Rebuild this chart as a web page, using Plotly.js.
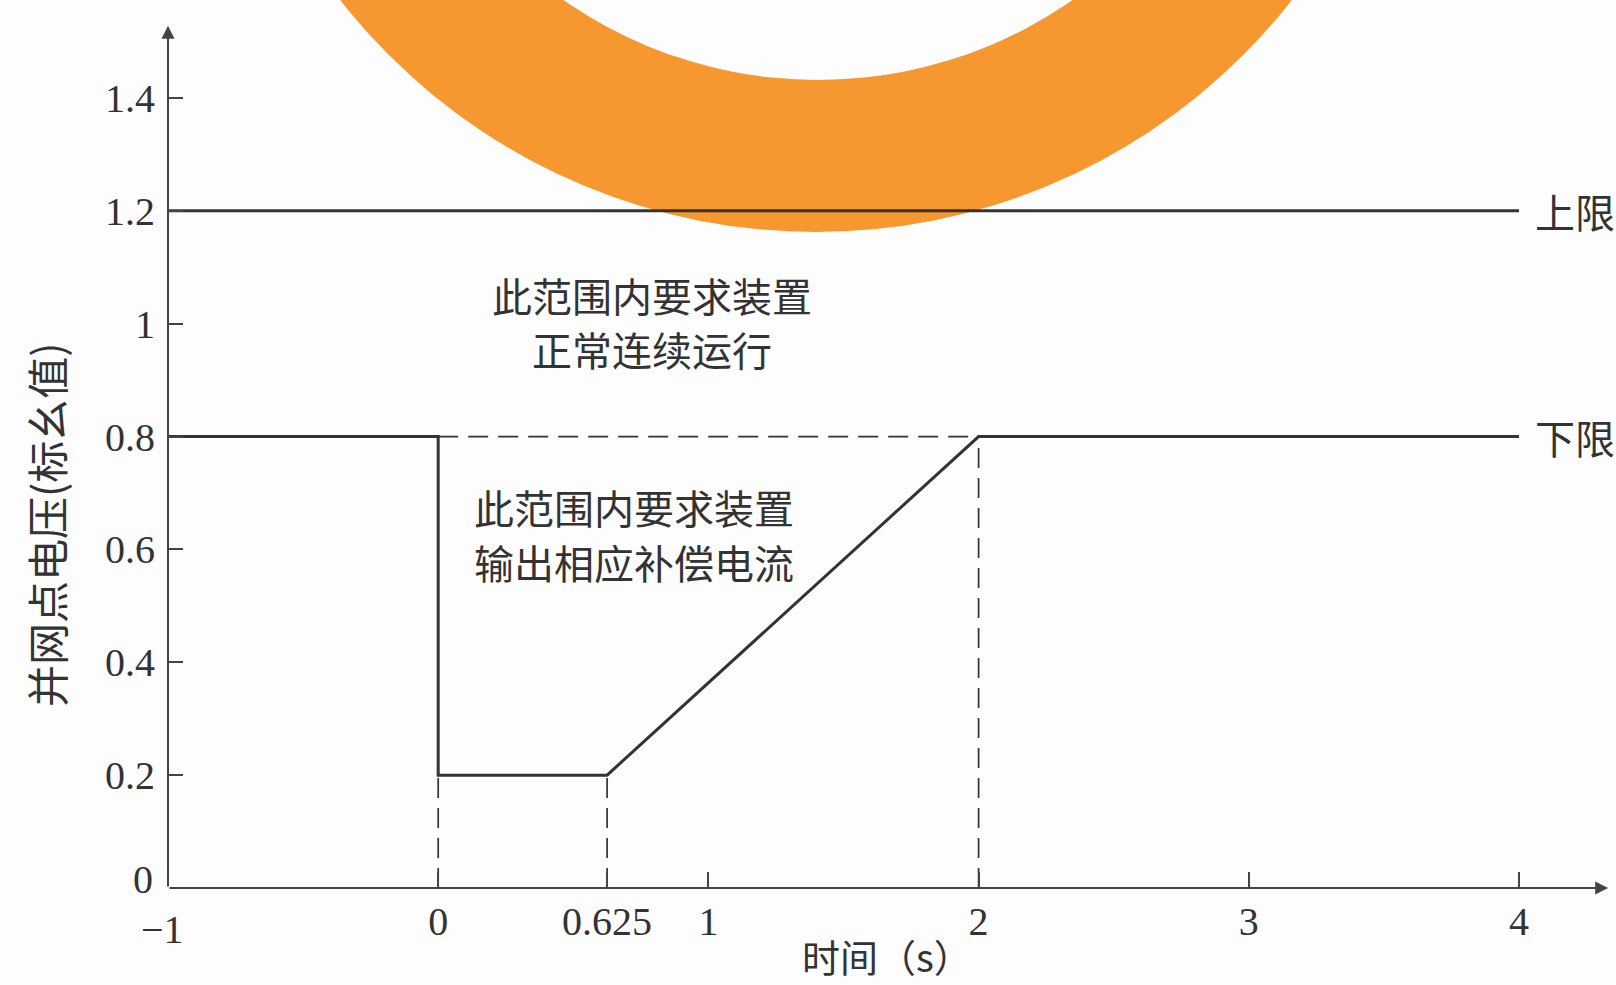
<!DOCTYPE html>
<html>
<head>
<meta charset="utf-8">
<script src="https://cdn.plot.ly/plotly-3.0.1.min.js"></script>
<style>
html,body{margin:0;padding:0;background:#fdfdfd;}
#chart{width:1616px;height:985px;}
</style>
</head>
<body>
<div id="chart"></div>
<script>
// ---- data ----
const xTickVals = [-1, 0, 0.625, 1, 2, 3, 4];
const xTickText = ['\u22121', '0', '0.625', '1', '2', '3', '4'];
const yTickVals = [0, 0.2, 0.4, 0.6, 0.8, 1, 1.2, 1.4];
const yTickText = ['0', '0.2', '0.4', '0.6', '0.8', '1', '1.2', '1.4'];

const upperX = [-1, 4];
const upperY = [1.2, 1.2];

const lowerX = [-1, 0, 0, 0.625, 2, 4];
const lowerY = [0.8, 0.8, 0.2, 0.2, 0.8, 0.8];

const refLineX = [0, 2];
const refLineY = [0.8, 0.8];

const guideX = [0, 0.625, 2];
const guideTop = [0.2, 0.2, 0.8];

const labelUpper = '上限';
const labelLower = '下限';
const regionNormal = ['此范围内要求装置', '正常连续运行'];
const regionComp = ['此范围内要求装置', '输出相应补偿电流'];
const xTitle = '时间（s）';
const yTitle = '并网点电压(标幺值)';

// ---- layout geometry ----
const W = 1616, H = 985;
const mL = 168, mR = 0, mT = 0, mB = 97;
const plotW = W - mL - mR, plotH = H - mT - mB;
const xMin = -1, pxPerX = 270.2;
const xMax = xMin + plotW / pxPerX;
const pxPerY = 564.3;
const yMax = plotH / pxPerY;

// pixel -> coordinate helpers (for decoration / text placement only)
const px2x = p => xMin + (p - mL) / pxPerX;
const py2y = p => (H - mB - p) / pxPerY;
const px2paper = p => (p - mL) / plotW;
const py2paper = p => (H - mB - p) / plotH;

// decorative orange ring (scan background)
function circleShape(cx, cy, r, fill) {
  return {
    type: 'circle', xref: 'x', yref: 'y', layer: 'below',
    x0: px2x(cx - r), x1: px2x(cx + r), y0: py2y(cy + r), y1: py2y(cy - r),
    fillcolor: fill, line: {width: 0}
  };
}
const ringOuter = circleShape(816, -372, 604, '#f7972f');
const ringInner = circleShape(818, -365, 445, '#fdfdfd');

// dashed guide traces built from arrays
const gx = [], gy = [];
guideX.forEach((v, i) => { gx.push(v, v, null); gy.push(0, guideTop[i], null); });
gx.push(refLineX[0], refLineX[1]);
gy.push(refLineY[0], refLineY[1]);

// corner labels (x "−1" and y "0") placed separately so they don't collide
const xAxisText = xTickText.map((t, i) => xTickVals[i] === xMin ? '' : t);
const yAxisText = yTickText.map((t, i) => yTickVals[i] === 0 ? '' : t);
const xCornerText = xTickText[xTickVals.indexOf(xMin)];
const yCornerText = yTickText[yTickVals.indexOf(0)];

const lineColor = '#333333';
const textColor = '#333333';
const serif = 'Liberation Serif, Times New Roman, serif';
const cjk = 'Noto Sans CJK SC, sans-serif';

const traces = [
  {x: upperX, y: upperY, mode: 'lines', line: {color: lineColor, width: 3}, hoverinfo: 'skip', showlegend: false},
  {x: lowerX, y: lowerY, mode: 'lines', line: {color: lineColor, width: 3}, hoverinfo: 'skip', showlegend: false},
  {x: gx, y: gy, mode: 'lines', connectgaps: false, line: {color: lineColor, width: 1.7, dash: '20px,10px'}, hoverinfo: 'skip', showlegend: false}
];

function textAnn(x, y, text, size, extra) {
  return Object.assign({x: x, y: y, xref: 'x', yref: 'y', text: text, showarrow: false,
    xanchor: 'center', yanchor: 'middle',
    font: {family: cjk, size: size, color: textColor}}, extra || {});
}
function paperAnn(px, py, text, font, extra) {
  return Object.assign({x: px2paper(px), y: py2paper(py), xref: 'paper', yref: 'paper', text: text,
    showarrow: false, xanchor: 'center', yanchor: 'middle', font: font}, extra || {});
}

const layout = {
  width: W, height: H,
  margin: {l: mL, r: mR, t: mT, b: mB},
  paper_bgcolor: '#fdfdfd', plot_bgcolor: 'rgba(0,0,0,0)',
  showlegend: false,
  xaxis: {
    range: [xMin, xMax], showgrid: false, zeroline: false, showline: false,
    tickmode: 'array', tickvals: xTickVals, ticktext: xAxisText,
    ticks: 'inside', ticklen: 16, tickwidth: 2, tickcolor: '#444',
    ticklabelstandoff: 6,
    tickfont: {family: serif, size: 40, color: textColor},
    automargin: false, fixedrange: true
  },
  yaxis: {
    range: [0, yMax], showgrid: false, zeroline: false, showline: false,
    tickmode: 'array', tickvals: yTickVals, ticktext: yAxisText,
    ticks: 'inside', ticklen: 15, tickwidth: 2, tickcolor: '#444',
    ticklabelstandoff: 12,
    tickfont: {family: serif, size: 40, color: textColor},
    automargin: false, fixedrange: true
  },
  shapes: [ringOuter, ringInner],
  annotations: [
    {x: 4.33, y: 0, ax: -1, ay: 0, xref: 'x', yref: 'y', axref: 'x', ayref: 'y',
     text: '', showarrow: true, arrowhead: 2, arrowsize: 1.3, arrowwidth: 2, arrowcolor: '#444'},
    {x: -1, y: 1.528, ax: -1, ay: 0, xref: 'x', yref: 'y', axref: 'x', ayref: 'y',
     text: '', showarrow: true, arrowhead: 2, arrowsize: 1.3, arrowwidth: 2, arrowcolor: '#444'},
    textAnn(4.05, 1.2, labelUpper, 40, {xanchor: 'left'}),
    textAnn(4.05, 0.8, labelLower, 40, {xanchor: 'left'}),
    textAnn(px2x(652), py2y(295), regionNormal[0], 40),
    textAnn(px2x(652), py2y(349), regionNormal[1], 40),
    textAnn(px2x(634), py2y(507), regionComp[0], 40),
    textAnn(px2x(634), py2y(562), regionComp[1], 40),
    paperAnn(162, 929, xCornerText, {family: serif, size: 40, color: textColor}),
    paperAnn(143, 879, yCornerText, {family: serif, size: 40, color: textColor}),
    paperAnn(887, 955, xTitle, {family: cjk, size: 38, color: textColor}),
    paperAnn(45, 525, yTitle, {family: cjk, size: 42, color: textColor}, {textangle: -90})
  ]
};

Plotly.newPlot('chart', traces, layout, {staticPlot: true, displayModeBar: false});
</script>
</body>
</html>
